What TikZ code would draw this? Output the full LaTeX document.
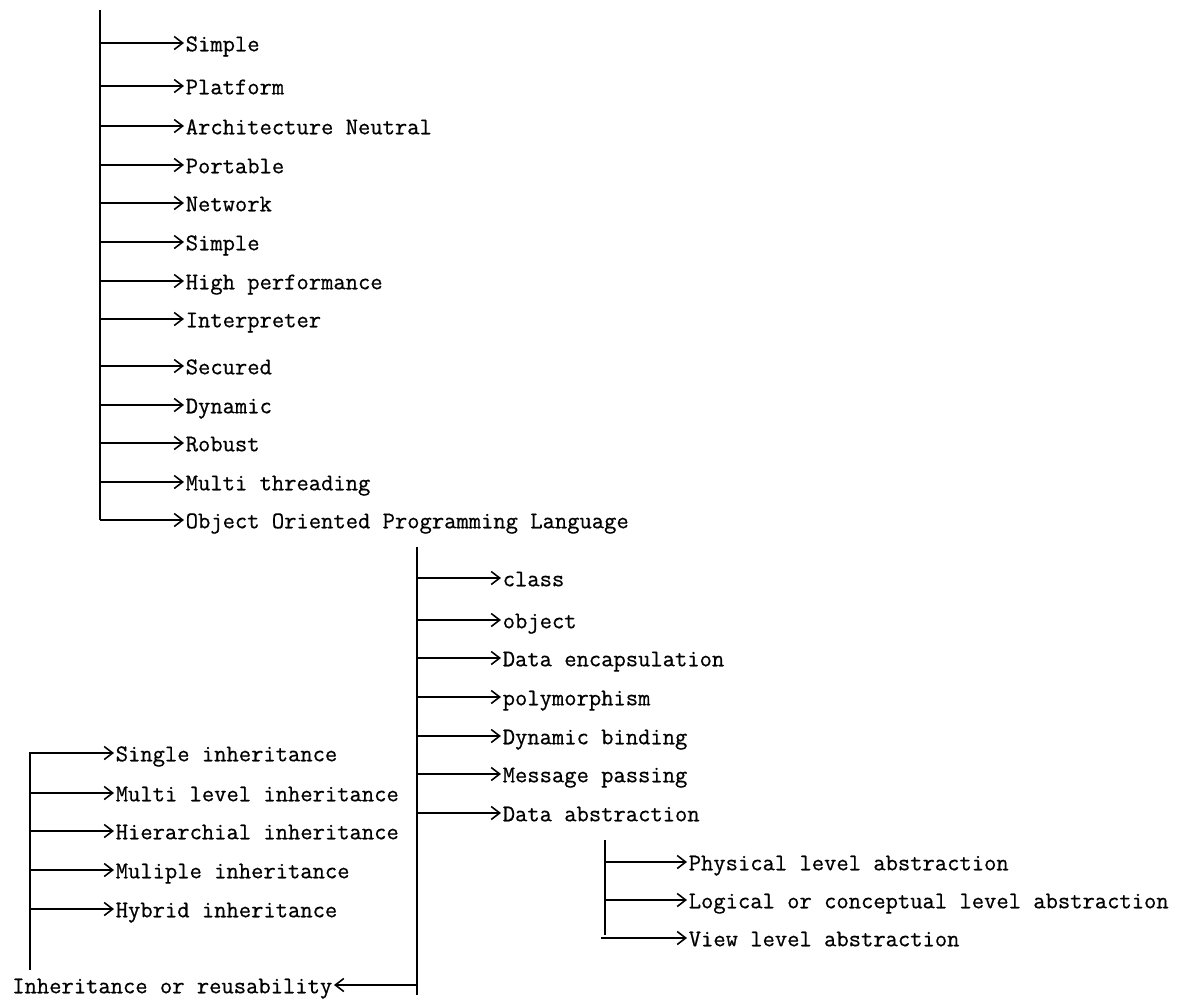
\documentclass[tikz,border=0pt]{standalone}
\usepackage{fontspec}
\newfontfamily\itemfont{Latin Modern Mono}[FakeBold=0.6]
\usetikzlibrary{arrows.meta}
\definecolor{inkblack}{HTML}{000000}
\tikzset{
  >={Straight Barb[length=1.7mm,width=2.6mm]},
  trunk/.style={draw=inkblack, line width=1.1pt},
  branch/.style={->, draw=inkblack, line width=0.9pt},
  item/.style={
    anchor=west, inner xsep=1pt, inner ysep=0pt, outer sep=0pt,
    font=\itemfont\fontsize{13.6}{16}\selectfont, text=inkblack,
    text height=9.4pt, text depth=0pt
  }
}

\begin{document}
\begin{tikzpicture}[x=0.02cm,y=-0.02cm]
\useasboundingbox (0,0) rectangle (1180,998);
% features
\coordinate (fTop) at (100,10);
\coordinate (fBot) at (100,520);
\node[item] (f1) at (184,43) {Simple};
\node[item] (f2) at (184,86) {Platform};
\node[item] (f3) at (184,126) {Architecture Neutral};
\node[item] (f4) at (184,165) {Portable};
\node[item] (f5) at (184,203) {Network};
\node[item] (f6) at (184,242) {Simple};
\node[item] (f7) at (184,281) {High performance};
\node[item] (f8) at (184,319) {Interpreter};
\node[item] (f9) at (184,366) {Secured};
\node[item] (f10) at (184,405) {Dynamic};
\node[item] (f11) at (184,443) {Robust};
\node[item] (f12) at (184,482) {Multi threading};
\node[item] (oop) at (184,520) {Object Oriented Programming Language};
\draw[trunk] (fTop) -- (fBot);
\draw[branch] (fTop |- f1.west) -- (f1.west);
\draw[branch] (fTop |- f2.west) -- (f2.west);
\draw[branch] (fTop |- f3.west) -- (f3.west);
\draw[branch] (fTop |- f4.west) -- (f4.west);
\draw[branch] (fTop |- f5.west) -- (f5.west);
\draw[branch] (fTop |- f6.west) -- (f6.west);
\draw[branch] (fTop |- f7.west) -- (f7.west);
\draw[branch] (fTop |- f8.west) -- (f8.west);
\draw[branch] (fTop |- f9.west) -- (f9.west);
\draw[branch] (fTop |- f10.west) -- (f10.west);
\draw[branch] (fTop |- f11.west) -- (f11.west);
\draw[branch] (fTop |- f12.west) -- (f12.west);
\draw[branch] (fBot) -- (oop.west);
% oop concepts
\coordinate (oTop) at (417,547);
\coordinate (oBot) at (417,995);
\node[item] (o1) at (501,578) {class};
\node[item] (o2) at (501,620) {object};
\node[item] (o3) at (501,658) {Data encapsulation};
\node[item] (o4) at (501,697) {polymorphism};
\node[item] (o5) at (501,736) {Dynamic binding};
\node[item] (o6) at (501,774) {Message passing};
\node[item] (abs) at (501,813) {Data abstraction};
\node[item, anchor=east] (inh) at (334,985) {Inheritance or reusability};
\draw[trunk] (oTop) -- (oBot);
\draw[branch] (oTop |- o1.west) -- (o1.west);
\draw[branch] (oTop |- o2.west) -- (o2.west);
\draw[branch] (oTop |- o3.west) -- (o3.west);
\draw[branch] (oTop |- o4.west) -- (o4.west);
\draw[branch] (oTop |- o5.west) -- (o5.west);
\draw[branch] (oTop |- o6.west) -- (o6.west);
\draw[branch] (oTop |- abs.west) -- (abs.west);
\draw[branch] (oTop |- inh.east) -- (inh.east);
% abstraction levels
\coordinate (aTop) at (605,840);
\coordinate (aBot) at (605,935);
\node[item] (a1) at (687,862) {Physical level abstraction};
\node[item] (a2) at (687,900) {Logical or conceptual level abstraction};
\node[item] (a3) at (687,938) {View level abstraction};
\draw[trunk] (aTop) -- (aBot);
\draw[branch] (aTop |- a1.west) -- (a1.west);
\draw[branch] (aTop |- a2.west) -- (a2.west);
\draw[branch] ([xshift=-2]aTop |- a3.west) -- (a3.west);
% inheritance kinds
\coordinate (iTop) at (30,752);
\coordinate (iBot) at (30,970);
\node[item] (i1) at (114,753) {Single inheritance};
\node[item] (i2) at (114,793) {Multi level inheritance};
\node[item] (i3) at (114,831) {Hierarchial inheritance};
\node[item] (i4) at (114,870) {Muliple inheritance};
\node[item] (i5) at (114,909) {Hybrid inheritance};
\draw[trunk] (iTop) -- (iBot);
\draw[branch] (iTop |- i1.west) -- (i1.west);
\draw[branch] (iTop |- i2.west) -- (i2.west);
\draw[branch] (iTop |- i3.west) -- (i3.west);
\draw[branch] (iTop |- i4.west) -- (i4.west);
\draw[branch] (iTop |- i5.west) -- (i5.west);
\end{tikzpicture}
\end{document}
